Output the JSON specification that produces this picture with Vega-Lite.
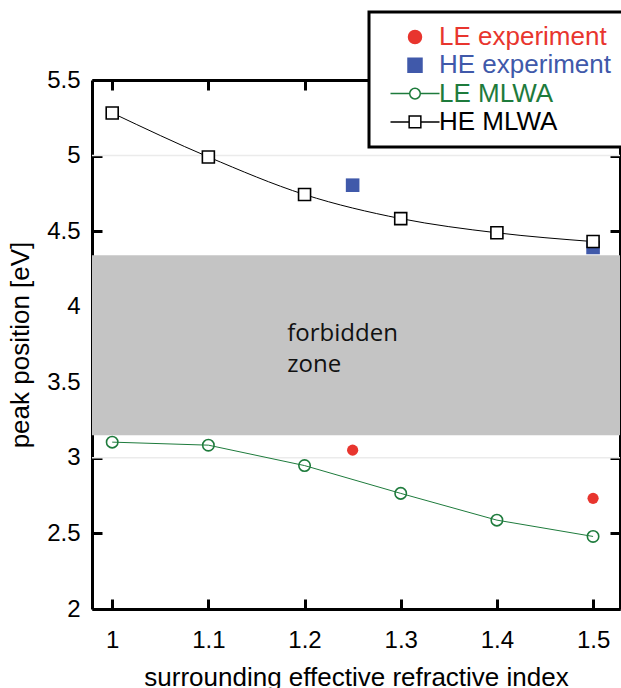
{
  "$schema": "https://vega.github.io/schema/vega-lite/v6.json",
  "width": 528,
  "height": 529,
  "autosize": {"type": "none"},
  "padding": {"left": 92, "top": 80, "right": 1, "bottom": 79},
  "background": "white",
  "config": {
    "view": {"stroke": null},
    "font": "Liberation Sans",
    "axis": {
      "domainColor": "black", "domainWidth": 3, "tickColor": "black", "tickWidth": 3, "tickSize": -10,
      "labelFont": "Liberation Sans", "labelFontSize": 24, "labelColor": "black",
      "titleFont": "Liberation Sans", "titleFontSize": 26, "titleFontWeight": "normal", "titleColor": "black",
      "grid": false, "labelFlush": false, "labelOverlap": false, "zindex": 1
    }
  },
  "datasets": {
    "main": [
      {"series": "HE MLWA", "n": 1.0, "E": 5.282},
      {"series": "HE MLWA", "n": 1.1, "E": 4.991},
      {"series": "HE MLWA", "n": 1.2, "E": 4.742},
      {"series": "HE MLWA", "n": 1.3, "E": 4.583},
      {"series": "HE MLWA", "n": 1.4, "E": 4.489},
      {"series": "HE MLWA", "n": 1.5, "E": 4.431},
      {"series": "LE MLWA", "n": 1.0, "E": 3.104},
      {"series": "LE MLWA", "n": 1.1, "E": 3.084},
      {"series": "LE MLWA", "n": 1.2, "E": 2.949},
      {"series": "LE MLWA", "n": 1.3, "E": 2.765},
      {"series": "LE MLWA", "n": 1.4, "E": 2.588},
      {"series": "LE MLWA", "n": 1.5, "E": 2.480},
      {"series": "HE experiment", "n": 1.25, "E": 4.804},
      {"series": "HE experiment", "n": 1.5, "E": 4.392},
      {"series": "LE experiment", "n": 1.25, "E": 3.051},
      {"series": "LE experiment", "n": 1.5, "E": 2.732}
    ]
  },
  "layer": [
    {
      "layer": [
        {
          "data": {"values": [{"lo": 3.15, "hi": 4.34}]},
          "mark": {"type": "rect", "color": "#c4c4c4"},
          "encoding": {
            "y": {"field": "lo", "type": "quantitative",
              "scale": {"domain": [2, 5.5], "nice": false, "zero": false},
              "axis": {"values": [2, 2.5, 3, 3.5, 4, 4.5, 5, 5.5], "format": ".1~f", "title": "peak position [eV]", "labelPadding": 22, "titlePadding": 13}},
            "y2": {"field": "hi"}
          }
        },
        {
          "data": {"values": [{"E": 3}, {"E": 5}]},
          "mark": {"type": "rule", "color": "#ebebeb", "strokeWidth": 1.5},
          "encoding": {"y": {"field": "E", "type": "quantitative"}}
        },
        {
          "data": {"values": [{"label": "forbidden\nzone", "n": 1.182, "E": 3.772}]},
          "mark": {"type": "text", "align": "left", "baseline": "alphabetic", "font": "Open Sans", "fontSize": 24, "lineHeight": 31, "lineBreak": "\n", "color": "#111111"},
          "encoding": {
            "x": {"field": "n", "type": "quantitative",
              "scale": {"domain": [0.979, 1.528], "nice": false, "zero": false},
              "axis": {"values": [1, 1.1, 1.2, 1.3, 1.4, 1.5], "format": ".1~f", "title": "surrounding effective refractive index", "labelPadding": 29, "titlePadding": 12}},
            "y": {"field": "E", "type": "quantitative"},
            "text": {"field": "label"}
          }
        },
        {
          "data": {"name": "main"},
          "transform": [{"filter": "datum.series === 'HE MLWA'"}],
          "mark": {"type": "line", "interpolate": "monotone", "strokeWidth": 1},
          "encoding": {
            "x": {"field": "n", "type": "quantitative"},
            "y": {"field": "E", "type": "quantitative"},
            "color": {"field": "series", "type": "nominal",
              "scale": {"domain": ["LE experiment", "HE experiment", "LE MLWA", "HE MLWA"], "range": ["#e8352e", "#4059aa", "#1e7b3c", "#000000"]},
              "legend": {
                "orient": "none", "legendX": 277, "legendY": -68, "title": null,
                "fillColor": "white", "strokeColor": "black", "padding": 12, "zindex": 2,
                "labelFont": "Liberation Sans", "labelFontSize": 26, "labelOffset": 11, "rowPadding": 2.3,
                "symbolSize": 100, "symbolOffset": 21, "labelLimit": 400,
                "encode": {
                  "legend": {"update": {"strokeWidth": {"value": 3}}},
                  "symbols": {"update": {
                    "shape": {"signal": "datum.value==='LE experiment' ? 'M-1.3,0A1.3,1.3,0,1,1,1.3,0A1.3,1.3,0,1,1,-1.3,0Z' : datum.value==='HE experiment' ? 'M-1.4,-1.4H1.4V1.4H-1.4Z' : datum.value==='LE MLWA' ? 'M-4.9,0H-1.06M1.06,0H4.9M-1.06,0A1.06,1.06,0,1,1,1.06,0A1.06,1.06,0,1,1,-1.06,0ZM-1.06,0A1.06,1.06,0,1,0,1.06,0A1.06,1.06,0,1,0,-1.06,0Z' : 'M-4.9,0H-1.17M1.17,0H4.9M-1.17,-1.17H1.17V1.17H-1.17ZM-1.17,-1.17V1.17H1.17V-1.17Z'"},
                    "fill": {"signal": "datum.value==='LE experiment' ? '#e8352e' : datum.value==='HE experiment' ? '#4059aa' : 'white'"},
                    "stroke": {"signal": "datum.value==='LE experiment' ? '#e8352e' : datum.value==='HE experiment' ? '#4059aa' : datum.value==='LE MLWA' ? '#1e7b3c' : 'black'"},
                    "strokeWidth": {"value": 1.5},
                    "size": {"value": 100},
                    "opacity": {"value": 1}
                  }},
                  "labels": {"update": {
                    "fill": {"signal": "datum.value==='LE experiment' ? '#e8352e' : datum.value==='HE experiment' ? '#4059aa' : datum.value==='LE MLWA' ? '#1e7b3c' : 'black'"}
                  }}
                }
              }
            }
          }
        },
        {
          "data": {"name": "main"},
          "transform": [{"filter": "datum.series === 'LE MLWA'"}],
          "mark": {"type": "line", "interpolate": "linear", "strokeWidth": 1},
          "encoding": {
            "x": {"field": "n", "type": "quantitative"},
            "y": {"field": "E", "type": "quantitative"},
            "color": {"field": "series", "type": "nominal"}
          }
        },
        {
          "data": {"name": "main"},
          "transform": [{"filter": "datum.series === 'LE experiment'"}],
          "mark": {"type": "point", "shape": "circle", "filled": true, "size": 125, "opacity": 1},
          "encoding": {
            "x": {"field": "n", "type": "quantitative"},
            "y": {"field": "E", "type": "quantitative"},
            "color": {"field": "series", "type": "nominal"}
          }
        },
        {
          "data": {"name": "main"},
          "transform": [{"filter": "datum.series === 'HE experiment'"}],
          "mark": {"type": "point", "shape": "square", "filled": true, "size": 185, "opacity": 1},
          "encoding": {
            "x": {"field": "n", "type": "quantitative"},
            "y": {"field": "E", "type": "quantitative"},
            "color": {"field": "series", "type": "nominal"}
          }
        },
        {
          "data": {"name": "main"},
          "transform": [{"filter": "datum.series === 'LE MLWA'"}],
          "mark": {"type": "point", "shape": "circle", "filled": false, "size": 130, "stroke": "#1e7b3c", "strokeWidth": 1.6, "opacity": 1},
          "encoding": {
            "x": {"field": "n", "type": "quantitative"},
            "y": {"field": "E", "type": "quantitative"}
          }
        }
      ]
    },
    {
      "data": {"name": "main"},
      "transform": [{"filter": "datum.series === 'HE MLWA'"}],
      "mark": {"type": "point", "shape": "square", "filled": true, "fill": "white", "size": 144, "stroke": "black", "strokeWidth": 1.6, "opacity": 1},
      "encoding": {
        "x": {"field": "n", "type": "quantitative",
          "axis": {"orient": "top", "values": [1, 1.1, 1.2, 1.3, 1.4, 1.5], "labels": false, "title": null}},
        "y": {"field": "E", "type": "quantitative",
          "axis": {"orient": "right", "values": [2, 2.5, 3, 3.5, 4, 4.5, 5, 5.5], "labels": false, "title": null}}
      }
    }
  ],
  "resolve": {"axis": {"x": "independent", "y": "independent"}}
}
